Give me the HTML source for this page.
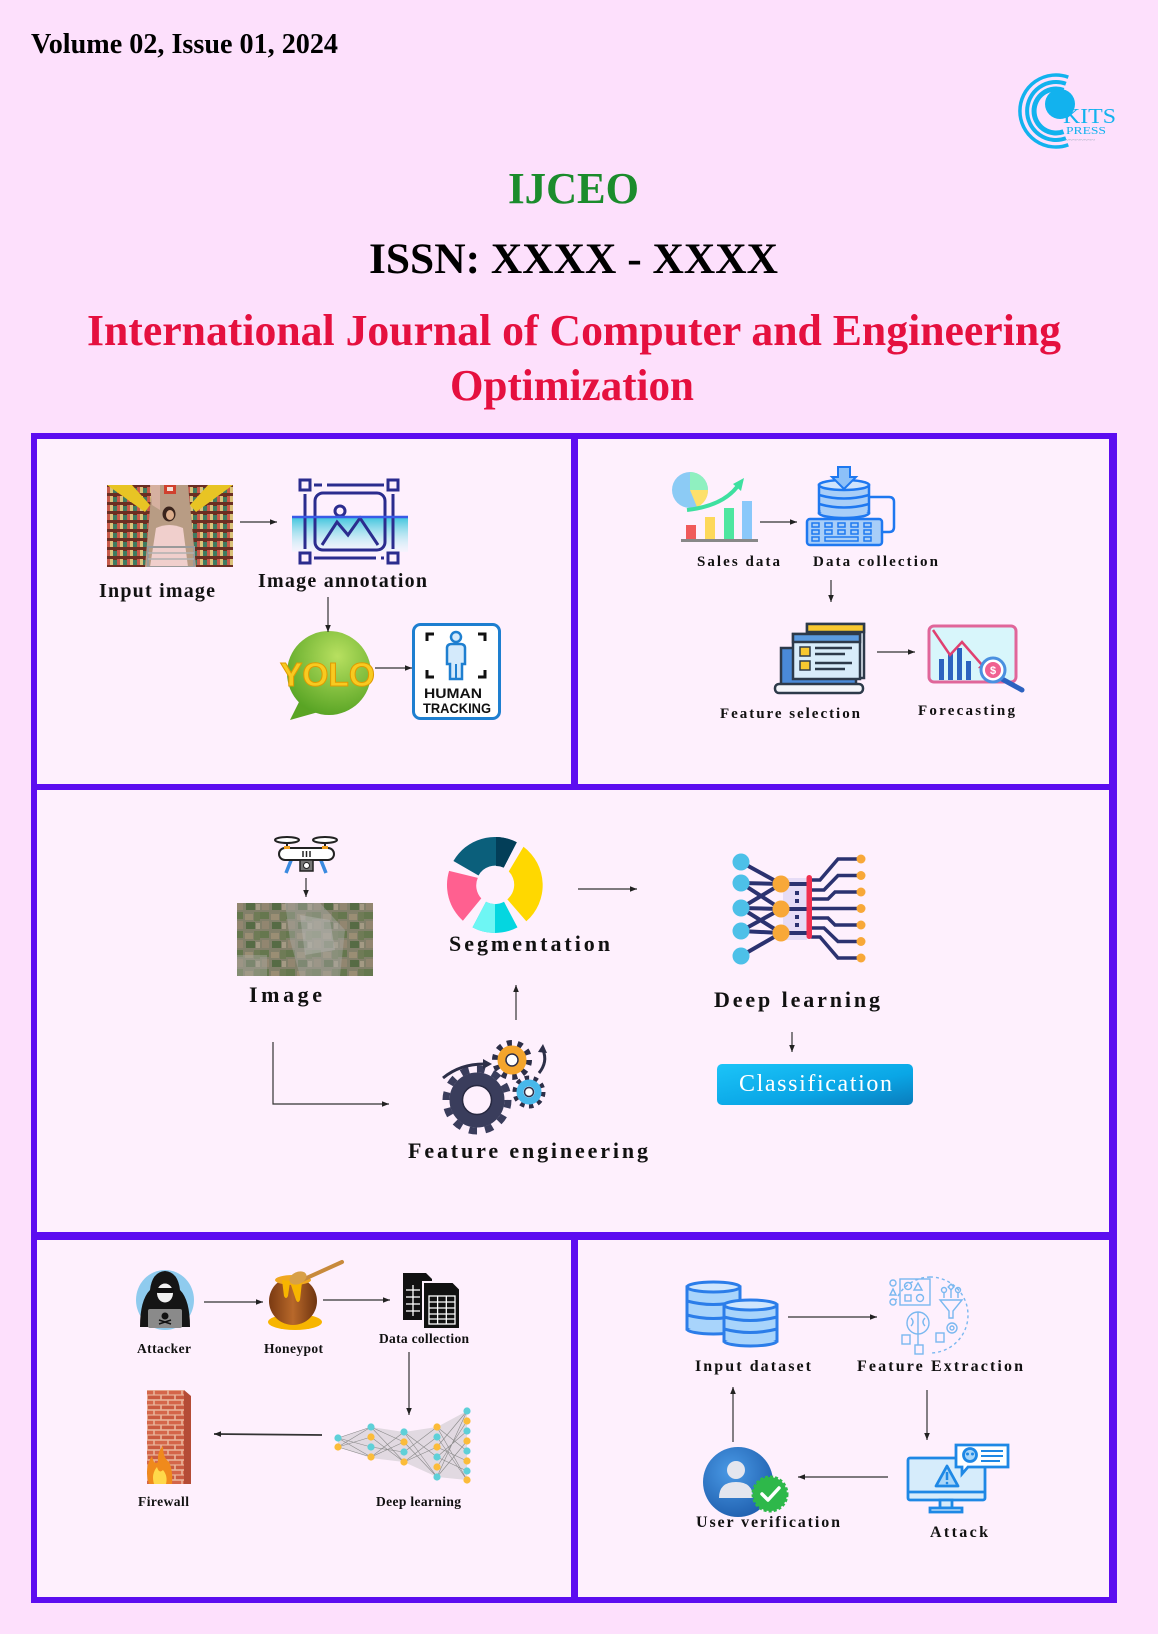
<!DOCTYPE html>
<html><head><meta charset="utf-8"><title>IJCEO</title>
<style>
html,body{margin:0;padding:0;background:#fde0fc;}
svg{display:block}
</style></head><body>
<svg width="1158" height="1634" viewBox="0 0 1158 1634" xmlns="http://www.w3.org/2000/svg" font-family="'Liberation Serif', 'DejaVu Serif', serif">
<defs>
  <marker id="ah" viewBox="0 0 10 10" refX="10" refY="5" markerWidth="7" markerHeight="7" markerUnits="userSpaceOnUse" orient="auto">
    <path d="M0,1 L10,5 L0,9 z" fill="#222"/>
  </marker>
  <linearGradient id="cyanband" x1="0" y1="0" x2="0" y2="1">
    <stop offset="0" stop-color="#3cc4dc"/><stop offset="1" stop-color="#e6fafd" stop-opacity="0.3"/>
  </linearGradient>
  <radialGradient id="yolog" cx="0.6" cy="0.3" r="0.8">
    <stop offset="0" stop-color="#b8e060"/><stop offset="1" stop-color="#4e9e1e"/>
  </radialGradient>
  <linearGradient id="btng" x1="0" y1="0" x2="1" y2="1">
    <stop offset="0" stop-color="#1cc4f8"/><stop offset="0.6" stop-color="#0aa6e6"/><stop offset="1" stop-color="#0a7cbc"/>
  </linearGradient>
  <radialGradient id="userg" cx="0.4" cy="0.35" r="0.7">
    <stop offset="0" stop-color="#4a9ae6"/><stop offset="1" stop-color="#1f5fae"/>
  </radialGradient>
  <linearGradient id="potg" x1="0" y1="0" x2="1" y2="0">
    <stop offset="0" stop-color="#7a3a12"/><stop offset="0.5" stop-color="#b8682a"/><stop offset="1" stop-color="#6e3410"/>
  </linearGradient>
  <pattern id="shelf" width="10" height="9" patternUnits="userSpaceOnUse">
    <rect width="10" height="9" fill="#6b2e22"/>
    <rect x="0" y="1" width="3" height="6" fill="#d9c27a"/>
    <rect x="3" y="2" width="4" height="5" fill="#3f7a5f"/>
    <rect x="7" y="1" width="3" height="6" fill="#c65a4a"/>
  </pattern>
  <pattern id="sat" width="26" height="19" patternUnits="userSpaceOnUse">
    <rect width="26" height="19" fill="#82806a"/>
    <rect x="0" y="0" width="9" height="7" fill="#65774e"/>
    <rect x="11" y="2" width="8" height="6" fill="#9a8e74"/>
    <rect x="20" y="0" width="6" height="9" fill="#6f7b56"/>
    <rect x="2" y="9" width="7" height="8" fill="#928670"/>
    <rect x="12" y="10" width="9" height="7" fill="#566b45"/>
    <rect x="22" y="11" width="4" height="6" fill="#a49a84"/>
  </pattern>
  <pattern id="brick" width="14" height="10" patternUnits="userSpaceOnUse">
    <rect width="14" height="10" fill="#e9b49a"/>
    <rect x="0.8" y="0.8" width="12.4" height="3.6" fill="#d4664a"/>
    <rect x="-6.2" y="5.6" width="12.4" height="3.6" fill="#c95a40"/>
    <rect x="7.8" y="5.6" width="12.4" height="3.6" fill="#c95a40"/>
  </pattern>
  <clipPath id="cpPhoto"><rect x="107" y="485" width="126" height="82"/></clipPath>
  <clipPath id="cpSat"><rect x="237" y="903" width="136" height="73"/></clipPath>
</defs>

<!-- page background -->
<rect width="1158" height="1634" fill="#fde0fc"/>

<!-- header -->
<text x="31" y="53" font-size="28" font-weight="bold" fill="#000" textLength="307" lengthAdjust="spacingAndGlyphs">Volume 02, Issue 01, 2024</text>
<text x="508" y="203" font-size="44" font-weight="bold" fill="#1b8c2c" textLength="131" lengthAdjust="spacingAndGlyphs">IJCEO</text>
<text x="369" y="273" font-size="43" font-weight="bold" fill="#000" textLength="409" lengthAdjust="spacingAndGlyphs">ISSN: XXXX - XXXX</text>
<text x="87" y="345" font-size="44" font-weight="bold" fill="#e5103f" textLength="974" lengthAdjust="spacingAndGlyphs">International Journal of Computer and Engineering</text>
<text x="450" y="400" font-size="44" font-weight="bold" fill="#e5103f" textLength="244" lengthAdjust="spacingAndGlyphs">Optimization</text>

<!-- logo -->
<g fill="none" stroke="#12b2ee">
  <path d="M1063.5,90.3 A22,22 0 1 0 1063.5,131.7" stroke-width="5"/>
  <path d="M1065.9,83.7 A29,29 0 1 0 1065.9,138.3" stroke-width="4"/>
  <path d="M1068.3,77.2 A36,36 0 1 0 1068.3,144.8" stroke-width="3.5"/>
</g>
<circle cx="1060" cy="104" r="15" fill="#12b2ee"/>
<text x="1063" y="123" font-size="21" fill="#12b2ee" textLength="53" lengthAdjust="spacingAndGlyphs">KITS</text>
<text x="1066" y="134" font-size="11" fill="#12b2ee" textLength="40" lengthAdjust="spacingAndGlyphs">PRESS</text>
<text x="1065" y="142" font-size="6" fill="#8aa0b0" textLength="30" lengthAdjust="spacingAndGlyphs">~~~~~~~~</text>

<!-- frame -->
<rect x="31" y="433" width="1086" height="1170" fill="#5c0df0"/>
<rect x="37" y="439" width="534" height="345" fill="#fef0fd"/>
<rect x="578" y="439" width="531" height="345" fill="#fef0fd"/>
<rect x="37" y="790" width="1072" height="442" fill="#fef0fd"/>
<rect x="37" y="1240" width="534" height="357" fill="#fef0fd"/>
<rect x="578" y="1240" width="531" height="357" fill="#fef0fd"/>

<!-- ============ TOP LEFT ============ -->
<g clip-path="url(#cpPhoto)">
  <rect x="107" y="485" width="126" height="82" fill="#7a3a28"/>
  <polygon points="107,485 152,485 145,567 107,567" fill="url(#shelf)"/>
  <polygon points="188,485 233,485 233,567 196,567" fill="url(#shelf)"/>
  <polygon points="152,485 188,485 196,567 145,567" fill="#b89c84"/>
  <polygon points="150,485 160,485 160,510 152,505" fill="#d6b0a0"/>
  <polygon points="107,485 132,485 150,505 145,512" fill="#e8c424"/>
  <polygon points="233,485 208,485 190,505 196,512" fill="#e8c424"/>
  <rect x="164" y="485" width="12" height="9" fill="#d0402e"/>
  <rect x="167" y="487" width="6" height="4" fill="#f4e0d8"/>
  <ellipse cx="169" cy="514" rx="6.5" ry="7.5" fill="#3a241c"/>
  <ellipse cx="170" cy="515" rx="4" ry="5" fill="#dcae8c"/>
  <path d="M156,528 Q169,522 183,528 L188,567 L150,567 Z" fill="#f0cfcc"/>
  <rect x="148" y="547" width="46" height="20" fill="none" stroke="#9a9a9a" stroke-width="2"/>
  <line x1="148" y1="553" x2="194" y2="553" stroke="#b0b0b0" stroke-width="1.5"/>
  <line x1="148" y1="559" x2="194" y2="559" stroke="#b0b0b0" stroke-width="1.5"/>
</g>

<rect x="292" y="517" width="116" height="35" fill="url(#cyanband)"/>
<g fill="none" stroke="#2b2c8e" stroke-width="3">
  <rect x="300" y="480" width="10" height="10"/>
  <rect x="388" y="480" width="10" height="10"/>
  <rect x="300" y="553" width="10" height="10"/>
  <rect x="388" y="553" width="10" height="10"/>
  <line x1="314" y1="485" x2="322" y2="485"/>
  <line x1="327" y1="485" x2="384" y2="485"/>
  <line x1="305" y1="494" x2="305" y2="549"/>
  <line x1="393" y1="494" x2="393" y2="549"/>
  <line x1="314" y1="558" x2="376" y2="558"/>
  <line x1="381" y1="558" x2="384" y2="558"/>
  <rect x="315" y="493" width="70" height="57" rx="8"/>
  <circle cx="340" cy="511" r="5"/>
  <polyline points="322,545 337,522 348,535 360,518 378,545"/>
</g>
<line x1="292" y1="517" x2="408" y2="517" stroke="#3a5ae6" stroke-width="2.5"/>

<path d="M300,700 L290,720 L322,711 Z" fill="#5aa424"/>
<circle cx="329" cy="673" r="42" fill="url(#yolog)"/>
<text x="280" y="686" font-family="'Liberation Sans', 'DejaVu Sans', sans-serif" font-size="33" font-weight="bold" fill="#f8ca20" stroke="#e09a00" stroke-width="1" textLength="95" lengthAdjust="spacingAndGlyphs">YOLO</text>

<rect x="413.5" y="624.5" width="86" height="94" rx="7" fill="#ffffff" stroke="#1e7fd0" stroke-width="3"/>
<g fill="none" stroke="#111" stroke-width="3">
  <polyline points="427,641 427,634 434,634"/>
  <polyline points="478,634 485,634 485,641"/>
  <polyline points="427,670 427,677 434,677"/>
  <polyline points="485,670 485,677 478,677"/>
</g>
<g fill="#d4eafb" stroke="#1e7fd0" stroke-width="2.5">
  <circle cx="456" cy="637" r="5"/>
  <path d="M447,648 Q447,644 452,644 L460,644 Q465,644 465,648 L465,664 L462,664 L462,679 L450,679 L450,664 L447,664 Z"/>
</g>
<line x1="456" y1="664" x2="456" y2="679" stroke="#1e7fd0" stroke-width="2"/>
<g font-family="'Liberation Sans', 'DejaVu Sans', sans-serif" font-weight="bold" fill="#111" font-size="14">
  <text x="424" y="698" textLength="58" lengthAdjust="spacingAndGlyphs">HUMAN</text>
  <text x="423" y="713" textLength="68" lengthAdjust="spacingAndGlyphs">TRACKING</text>
</g>

<g font-weight="bold" fill="#111" font-size="20">
  <text x="99" y="597" textLength="116" lengthAdjust="spacing">Input image</text>
  <text x="258" y="587" textLength="169" lengthAdjust="spacing">Image annotation</text>
</g>

<!-- ============ TOP RIGHT ============ -->
<circle cx="690" cy="490" r="18" fill="#8ccbf5"/>
<path d="M690,490 L708,490 A18,18 0 0 1 697,507 Z" fill="#fde06a"/>
<path d="M690,490 L690,472 A18,18 0 0 1 708,490 Z" fill="#8ff0c0"/>
<path d="M687,510 Q722,506 737,487" fill="none" stroke="#3ee0a0" stroke-width="4"/>
<polygon points="733,484 744,478 741,491" fill="#3ee0a0"/>
<rect x="686" y="525" width="10" height="15" fill="#f05a5a"/>
<rect x="705" y="517" width="10" height="23" fill="#fdd85a"/>
<rect x="724" y="508" width="10" height="32" fill="#4ee6a0"/>
<rect x="742" y="501" width="10" height="39" fill="#8ac8fa"/>
<rect x="681" y="539" width="77" height="3" fill="#888"/>

<g stroke="#1e78f0" stroke-width="2.5">
  <path d="M869,497 L889,497 Q894,497 894,502 L894,527 Q894,532 889,532 L882,532" fill="none"/>
  <rect x="819" y="485" width="50" height="28" fill="#a8cef8"/>
  <ellipse cx="844" cy="513" rx="25" ry="5" fill="#a8cef8"/>
  <rect x="820.5" y="486" width="47" height="26" fill="#a8cef8" stroke="none"/>
  <ellipse cx="844" cy="485" rx="25" ry="5" fill="#cfe4fc"/>
  <path d="M819,495 Q844,502 869,495 M819,504 Q844,511 869,504" fill="none"/>
  <polygon points="838,467 850,467 850,477 856,477 844,489 832,477 838,477" fill="#8cc0f8" stroke-width="2"/>
  <rect x="807" y="519" width="75" height="26" rx="3" fill="#a8cef8"/>
</g>
<g fill="none" stroke="#1e78f0" stroke-width="1.5">
  <rect x="812" y="523" width="7" height="4"/><rect x="825" y="523" width="7" height="4"/><rect x="838" y="523" width="7" height="4"/><rect x="851" y="523" width="7" height="4"/><rect x="864" y="523" width="7" height="4"/>
  <rect x="812" y="530" width="7" height="4"/><rect x="825" y="530" width="7" height="4"/><rect x="838" y="530" width="7" height="4"/><rect x="851" y="530" width="7" height="4"/><rect x="864" y="530" width="7" height="4"/>
  <rect x="812" y="537" width="7" height="4"/><rect x="825" y="537" width="33" height="4"/><rect x="864" y="537" width="7" height="4"/>
</g>

<g stroke="#2d3a4a" stroke-width="2.5">
  <rect x="781" y="648" width="75" height="38" fill="#4a8ad8"/>
  <rect x="775" y="684" width="88" height="9" rx="4" fill="#f4f6fa"/>
  <rect x="807" y="624" width="57" height="54" fill="#eaf2fb"/>
  <rect x="807" y="624" width="57" height="8" fill="#f8c830"/>
  <rect x="793" y="634" width="67" height="45" fill="#d8ecfa"/>
  <rect x="793" y="634" width="67" height="8" fill="#5a9ae0"/>
  <rect x="800" y="647" width="10" height="9" fill="#f8c830" stroke-width="1.5"/>
  <rect x="800" y="661" width="10" height="9" fill="#f8c830" stroke-width="1.5"/>
  <line x1="815" y1="648" x2="852" y2="648"/>
  <line x1="815" y1="654" x2="845" y2="654"/>
  <line x1="815" y1="663" x2="852" y2="663"/>
  <line x1="815" y1="669" x2="845" y2="669"/>
</g>

<rect x="929" y="626" width="87" height="56" rx="5" fill="#d8f6fb" stroke="#e0669a" stroke-width="3"/>
<g fill="#2c62c0">
  <rect x="939" y="659" width="5" height="21"/>
  <rect x="948" y="653" width="5" height="27"/>
  <rect x="957" y="648" width="5" height="32"/>
  <rect x="966" y="661" width="5" height="19"/>
</g>
<polyline points="933,630 950,655 962,642 982,665" fill="none" stroke="#e04070" stroke-width="2.5"/>
<polygon points="978,668 987,670 984,661" fill="#e04070"/>
<line x1="1002" y1="679" x2="1022" y2="690" stroke="#2c62c0" stroke-width="5" stroke-linecap="round"/>
<circle cx="993" cy="670" r="12" fill="#fff" stroke="#4a90e0" stroke-width="3"/>
<circle cx="993" cy="670" r="8" fill="#f06090"/>
<text x="993" y="674" font-family="'Liberation Sans', sans-serif" font-size="11" font-weight="bold" fill="#fff" text-anchor="middle">$</text>

<g font-weight="bold" fill="#111" font-size="15">
  <text x="697" y="566" textLength="83" lengthAdjust="spacing">Sales data</text>
  <text x="813" y="566" textLength="125" lengthAdjust="spacing">Data collection</text>
  <text x="720" y="718" textLength="140" lengthAdjust="spacing">Feature selection</text>
  <text x="918" y="715" textLength="97" lengthAdjust="spacing">Forecasting</text>
</g>

<!-- ============ MIDDLE ============ -->
<g stroke="#222" stroke-width="2">
  <line x1="287" y1="841" x2="287" y2="850"/>
  <line x1="325" y1="841" x2="325" y2="850"/>
  <ellipse cx="287" cy="840" rx="12" ry="3" fill="#fff"/>
  <ellipse cx="325" cy="840" rx="12" ry="3" fill="#fff"/>
  <line x1="292" y1="858" x2="286" y2="873" stroke="#3a8ae0" stroke-width="3.5"/>
  <line x1="320" y1="858" x2="326" y2="873" stroke="#3a8ae0" stroke-width="3.5"/>
  <rect x="279" y="848" width="55" height="12" rx="6" fill="#fff"/>
  <rect x="300" y="860" width="13" height="11" fill="#777" stroke-width="1.5"/>
</g>
<rect x="284" y="846" width="6" height="3" fill="#f0a020"/>
<rect x="322" y="846" width="6" height="3" fill="#f0a020"/>
<circle cx="306.5" cy="865.5" r="3" fill="#fff" stroke="#222" stroke-width="1"/>
<line x1="303" y1="851" x2="303" y2="857" stroke="#222" stroke-width="1.5"/>
<line x1="306.5" y1="851" x2="306.5" y2="857" stroke="#222" stroke-width="1.5"/>
<line x1="310" y1="851" x2="310" y2="857" stroke="#222" stroke-width="1.5"/>

<g clip-path="url(#cpSat)">
  <rect x="237" y="903" width="136" height="73" fill="url(#sat)"/>
  <polygon points="285,903 320,903 345,930 340,976 300,976 290,940" fill="#a6a6a0" opacity="0.5"/>
  <polygon points="300,915 330,920 335,950 305,955" fill="#b8b8b4" opacity="0.45"/>
  <rect x="237" y="955" width="30" height="21" fill="#a8a8a0" opacity="0.45"/>
</g>

<path d="M453.4,861 A48,48 0 0 1 516.8,842.2 L503.7,867.6 A19,19 0 0 0 478.5,875.5 Z" fill="#0b5f7b"/>
<path d="M496,837 A48,48 0 0 1 516.8,842.2 L503.7,867.6 A19,19 0 0 0 496,866 Z" fill="#033e58"/>
<path d="M523.5,846.8 A48,48 0 0 1 526.3,921.3 L507.3,899.3 A19,19 0 0 0 508.8,871.4 Z" fill="#ffd800"/>
<path d="M517.5,927.4 A48,48 0 0 1 472.5,927.4 L486,901.8 A19,19 0 0 0 504,901.8 Z" fill="#04d6e0"/>
<path d="M495,933 A48,48 0 0 1 472.5,927.4 L486,901.8 A19,19 0 0 0 495,904 Z" fill="#6ef6f4"/>
<path d="M462.9,920.7 A48,48 0 0 1 449.1,870.9 L477.8,877.9 A19,19 0 0 0 481.3,898.4 Z" fill="#ff6090"/>

<rect x="783" y="878" width="24" height="62" fill="#e6dcf6"/>
<g stroke="#2b3270" stroke-width="4" fill="none" stroke-linecap="round">
  <line x1="741" y1="862" x2="781" y2="884"/>
  <line x1="741" y1="883" x2="781" y2="884"/>
  <line x1="741" y1="883" x2="781" y2="909"/>
  <line x1="741" y1="908" x2="781" y2="884"/>
  <line x1="741" y1="908" x2="781" y2="909"/>
  <line x1="741" y1="908" x2="781" y2="933"/>
  <line x1="741" y1="931" x2="781" y2="909"/>
  <line x1="741" y1="931" x2="781" y2="933"/>
  <line x1="741" y1="956" x2="781" y2="933"/>
  <line x1="781" y1="884" x2="808" y2="884"/>
  <line x1="781" y1="909" x2="808" y2="909"/>
  <line x1="781" y1="933" x2="808" y2="933"/>
  <polyline points="812,880 820,880 838,859 861,859" stroke-width="3.5"/>
  <polyline points="812,890 824,890 838,875.5 861,875.5" stroke-width="3.5"/>
  <polyline points="812,899 828,899 835,892 861,892" stroke-width="3.5"/>
  <polyline points="812,908.5 861,908.5" stroke-width="3.5"/>
  <polyline points="812,918 828,918 835,925 861,925" stroke-width="3.5"/>
  <polyline points="812,928 824,928 838,941.5 861,941.5" stroke-width="3.5"/>
  <polyline points="812,937 820,937 838,958 861,958" stroke-width="3.5"/>
</g>
<g fill="#2b3270">
  <rect x="795" y="891" width="4" height="4"/><rect x="795" y="899" width="4" height="4"/>
  <rect x="795" y="915" width="4" height="4"/><rect x="795" y="923" width="4" height="4"/>
</g>
<rect x="806.5" y="875" width="5.5" height="64" rx="2.7" fill="#f03050"/>
<g fill="#4dc0e8">
  <circle cx="741" cy="862" r="8.5"/><circle cx="741" cy="883" r="8.5"/><circle cx="741" cy="908" r="8.5"/><circle cx="741" cy="931" r="8.5"/><circle cx="741" cy="956" r="8.5"/>
</g>
<g fill="#f8a838">
  <circle cx="781" cy="884" r="8.5"/><circle cx="781" cy="909" r="8.5"/><circle cx="781" cy="933" r="8.5"/>
  <circle cx="861" cy="859" r="4.5"/><circle cx="861" cy="875.5" r="4.5"/><circle cx="861" cy="892" r="4.5"/><circle cx="861" cy="908.5" r="4.5"/><circle cx="861" cy="925" r="4.5"/><circle cx="861" cy="941.5" r="4.5"/><circle cx="861" cy="958" r="4.5"/>
</g>

<circle cx="477" cy="1100" r="31" fill="none" stroke="#3a3d5c" stroke-width="7" stroke-dasharray="8 8.2"/>
<circle cx="477" cy="1100" r="21" fill="none" stroke="#3a3d5c" stroke-width="13"/>
<circle cx="477" cy="1100" r="14.5" fill="#fef0fd" stroke="#262840" stroke-width="1.5"/>
<circle cx="512" cy="1060" r="17" fill="none" stroke="#2d2f48" stroke-width="6" stroke-dasharray="5 5.7"/>
<circle cx="512" cy="1060" r="10.5" fill="none" stroke="#f4a52c" stroke-width="8"/>
<circle cx="512" cy="1060" r="6" fill="#fff" stroke="#2d2f48" stroke-width="1.5"/>
<circle cx="529" cy="1092" r="14" fill="none" stroke="#2d2f48" stroke-width="5" stroke-dasharray="4.4 4.4"/>
<circle cx="529" cy="1092" r="9" fill="none" stroke="#48b8ea" stroke-width="7"/>
<circle cx="529" cy="1092" r="4.5" fill="#fff" stroke="#2d2f48" stroke-width="1.5"/>
<path d="M443,1078 Q460,1064 484,1064" fill="none" stroke="#2d2f48" stroke-width="3"/>
<polygon points="483,1059 492,1064 483,1069" fill="#2d2f48"/>
<path d="M539,1073 Q548,1062 543,1050" fill="none" stroke="#2d2f48" stroke-width="3"/>
<polygon points="538,1052 543,1044 547,1053" fill="#2d2f48"/>

<rect x="717" y="1064" width="196" height="41" rx="5" fill="url(#btng)"/>
<text x="739" y="1091" font-size="24" fill="#ffffff" textLength="153" lengthAdjust="spacing">Classification</text>

<g font-weight="bold" fill="#111" font-size="22">
  <text x="249" y="1002" textLength="73" lengthAdjust="spacing">Image</text>
  <text x="449" y="951" textLength="161" lengthAdjust="spacing">Segmentation</text>
  <text x="714" y="1007" textLength="166" lengthAdjust="spacing">Deep learning</text>
  <text x="408" y="1158" textLength="240" lengthAdjust="spacing">Feature engineering</text>
</g>

<!-- ============ BOTTOM LEFT ============ -->
<ellipse cx="165" cy="1300" rx="29" ry="30" fill="#8fcbee"/>
<path d="M140,1327 Q140,1300 150,1290 Q152,1272 165,1271 Q178,1272 180,1290 Q190,1300 190,1327 Z" fill="#151515"/>
<ellipse cx="165" cy="1293" rx="8" ry="9.5" fill="#f2f2f2"/>
<rect x="156" y="1288" width="18" height="5" rx="2" fill="#111"/>
<rect x="148" y="1309" width="34" height="19" rx="2" fill="#8a8a8a"/>
<circle cx="165" cy="1316" r="3.5" fill="#111"/>
<path d="M159,1320 L171,1324 M171,1320 L159,1324" stroke="#111" stroke-width="1.5"/>

<ellipse cx="295" cy="1322" rx="27" ry="8" fill="#f7b500"/>
<ellipse cx="293" cy="1301" rx="24" ry="24" fill="url(#potg)"/>
<ellipse cx="293" cy="1280" rx="18" ry="5" fill="#f0a820"/>
<path d="M282,1280 L284,1296 Q286,1300 288,1296 L290,1282 L296,1300 Q298,1304 300,1300 L302,1282 Z" fill="#f7b500"/>
<line x1="300" y1="1281" x2="342" y2="1262" stroke="#c88a3c" stroke-width="4" stroke-linecap="round"/>
<ellipse cx="298" cy="1278" rx="9" ry="6" fill="#d8a048" transform="rotate(-25 298 1278)"/>

<path d="M403,1273 L426,1273 L432,1279 L432,1320 L403,1320 Z" fill="#111"/>
<path d="M423,1282 L453,1282 L460,1289 L460,1329 L423,1329 Z" fill="#111" stroke="#fef0fd" stroke-width="2"/>
<g stroke="#fff" stroke-width="1.3">
  <line x1="406" y1="1290" x2="420" y2="1290"/><line x1="406" y1="1297" x2="420" y2="1297"/><line x1="406" y1="1304" x2="420" y2="1304"/><line x1="406" y1="1311" x2="420" y2="1311"/>
  <line x1="413" y1="1285" x2="413" y2="1316"/>
  <rect x="429" y="1296" width="26" height="28" fill="none"/>
  <line x1="429" y1="1302" x2="455" y2="1302"/><line x1="429" y1="1308" x2="455" y2="1308"/><line x1="429" y1="1314" x2="455" y2="1314"/><line x1="429" y1="1319" x2="455" y2="1319"/>
  <line x1="437.6" y1="1296" x2="437.6" y2="1324"/><line x1="446.3" y1="1296" x2="446.3" y2="1324"/>
</g>

<rect x="147" y="1390" width="37" height="94" fill="url(#brick)"/>
<polygon points="184,1390 191,1396 191,1484 184,1484" fill="#b44c36"/>
<path d="M149,1484 Q144,1468 152,1456 Q154,1466 158,1462 Q157,1452 163,1446 Q163,1458 169,1462 Q173,1470 172,1484 Z" fill="#f08a1c"/>
<path d="M154,1484 Q151,1474 157,1467 Q159,1474 163,1470 Q168,1476 166,1484 Z" fill="#ffd84a"/>

<g fill="#b8b8b8" opacity="0.4">
  <polygon points="338,1438 371,1427 371,1458 338,1447"/>
  <polygon points="371,1427 404,1432 404,1462 371,1458"/>
  <polygon points="404,1432 437,1427 437,1477 404,1462"/>
  <polygon points="437,1427 467,1411 467,1480 437,1477"/>
</g>
<g stroke="#8a8a8a" stroke-width="0.6" fill="none">
  <path d="M338,1438 L371,1427 M338,1438 L371,1447 M338,1447 L371,1437 M338,1447 L371,1457 M338,1438 L371,1457 M338,1447 L371,1427 M371,1427 L404,1442 M371,1437 L404,1462 M371,1457 L404,1432 M371,1447 L404,1452 M371,1427 L404,1462 M371,1457 L404,1442 M404,1432 L437,1457 M404,1442 L437,1477 M404,1452 L437,1427 M404,1462 L437,1447 M404,1432 L437,1477 M404,1462 L437,1437 M437,1427 L467,1451 M437,1437 L467,1480 M437,1447 L467,1411 M437,1457 L467,1471 M437,1467 L467,1421 M437,1477 L467,1441 M437,1427 L467,1480 M437,1477 L467,1411 M437,1447 L467,1461 M437,1457 L467,1431"/>
</g>
<g fill="#5fd0d8">
  <circle cx="338" cy="1438" r="3.6"/>
  <circle cx="371" cy="1427" r="3.6"/><circle cx="371" cy="1447" r="3.6"/>
  <circle cx="404" cy="1432" r="3.6"/><circle cx="404" cy="1452" r="3.6"/>
  <circle cx="437" cy="1437" r="3.6"/><circle cx="437" cy="1457" r="3.6"/><circle cx="437" cy="1477" r="3.6"/>
  <circle cx="467" cy="1411" r="3.6"/><circle cx="467" cy="1431" r="3.6"/><circle cx="467" cy="1451" r="3.6"/><circle cx="467" cy="1471" r="3.6"/>
</g>
<g fill="#fbbc3a">
  <circle cx="338" cy="1447" r="3.6"/>
  <circle cx="371" cy="1437" r="3.6"/><circle cx="371" cy="1457" r="3.6"/>
  <circle cx="404" cy="1442" r="3.6"/><circle cx="404" cy="1462" r="3.6"/>
  <circle cx="437" cy="1427" r="3.6"/><circle cx="437" cy="1447" r="3.6"/><circle cx="437" cy="1467" r="3.6"/>
  <circle cx="467" cy="1421" r="3.6"/><circle cx="467" cy="1441" r="3.6"/><circle cx="467" cy="1461" r="3.6"/><circle cx="467" cy="1480" r="3.6"/>
</g>

<g font-weight="bold" fill="#111" font-size="13.5">
  <text x="137" y="1353" textLength="54" lengthAdjust="spacing">Attacker</text>
  <text x="264" y="1353" textLength="59" lengthAdjust="spacing">Honeypot</text>
  <text x="379" y="1343" textLength="90" lengthAdjust="spacing">Data collection</text>
  <text x="138" y="1506" textLength="51" lengthAdjust="spacing">Firewall</text>
  <text x="376" y="1506" textLength="85" lengthAdjust="spacing">Deep learning</text>
</g>

<!-- ============ BOTTOM RIGHT ============ -->
<g stroke="#2b7de9" stroke-width="3" fill="#a8d4fb">
  <rect x="687" y="1287" width="53" height="42"/>
  <ellipse cx="713.5" cy="1329" rx="26.5" ry="5"/>
  <rect x="688.5" y="1288" width="50" height="40" stroke="none"/>
  <ellipse cx="713.5" cy="1287" rx="26.5" ry="5" fill="#cfe6fd"/>
  <path d="M687,1301 Q713,1308 740,1301 M687,1315 Q713,1322 740,1315" fill="none"/>
  <rect x="724" y="1305" width="53" height="36"/>
  <ellipse cx="750.5" cy="1341" rx="26.5" ry="5"/>
  <rect x="725.5" y="1306" width="50" height="34" stroke="none"/>
  <ellipse cx="750.5" cy="1305" rx="26.5" ry="5" fill="#cfe6fd"/>
  <path d="M724,1317 Q750,1324 777,1317 M724,1329 Q750,1336 777,1329" fill="none"/>
</g>

<g fill="none" stroke="#7ab8f0" stroke-width="1.4">
  <path d="M930,1277 A38,38 0 1 1 930,1353" stroke-dasharray="3 3"/>
  <path d="M930,1277 A38,38 0 0 0 896,1300" stroke-dasharray="3 3"/>
  <rect x="900" y="1279" width="30" height="26"/>
  <circle cx="908" cy="1286" r="3.5"/>
  <polygon points="918,1283 922,1290 914,1290"/>
  <rect x="905" y="1295" width="6" height="6"/>
  <circle cx="920" cy="1298" r="3.5"/>
  <circle cx="893" cy="1283" r="3"/>
  <polygon points="893,1289 896,1295 890,1295"/>
  <circle cx="893" cy="1302" r="3"/>
  <polygon points="940,1300 962,1300 953,1311 953,1318 949,1318 949,1311"/>
  <path d="M944,1298 L944,1292 M951,1298 L951,1289 M958,1298 L958,1292"/>
  <circle cx="944" cy="1290" r="2.5"/><rect x="949" y="1285" width="4" height="4" transform="rotate(45 951 1287)"/><circle cx="958" cy="1290" r="2.5"/>
  <circle cx="952" cy="1328" r="5"/><circle cx="952" cy="1328" r="2"/>
  <circle cx="918" cy="1323" r="11"/>
  <path d="M918,1312 L918,1334 M911,1318 Q915,1322 911,1326 M925,1318 Q921,1322 925,1326"/>
  <rect x="902" y="1335" width="8" height="9"/>
  <rect x="936" y="1333" width="8" height="9"/>
  <rect x="915" y="1345" width="8" height="9"/>
  <path d="M918,1334 L918,1345"/>
</g>

<g stroke="#1e88e5" stroke-width="2.8">
  <rect x="908" y="1458" width="77" height="42" rx="2" fill="#d6ecfb"/>
  <line x1="908" y1="1492" x2="985" y2="1492"/>
  <rect x="940" y="1500" width="12" height="8" fill="#d6ecfb"/>
  <rect x="930" y="1508" width="32" height="4" fill="#d6ecfb"/>
  <path d="M947,1466 L958,1486 L936,1486 Z" fill="#a8d6f8" stroke-linejoin="round"/>
  <path d="M956,1445 L1008,1445 L1008,1467 L968,1467 L962,1474 L962,1467 L956,1467 Z" fill="#ffffff"/>
  <circle cx="970" cy="1455" r="6.5" fill="#a8d6f8"/>
</g>
<line x1="947" y1="1472" x2="947" y2="1480" stroke="#1e88e5" stroke-width="2.5"/>
<circle cx="947" cy="1483" r="1.3" fill="#1e88e5"/>
<circle cx="967.5" cy="1454" r="1.5" fill="#1e88e5"/><circle cx="972.5" cy="1454" r="1.5" fill="#1e88e5"/>
<g stroke="#1e88e5" stroke-width="2">
  <line x1="981" y1="1451" x2="1003" y2="1451"/>
  <line x1="981" y1="1456" x2="1003" y2="1456"/>
  <line x1="981" y1="1461" x2="1000" y2="1461"/>
</g>

<circle cx="738" cy="1482" r="35" fill="url(#userg)"/>
<circle cx="736" cy="1470" r="9" fill="#e4e6ee"/>
<path d="M719,1498 Q719,1482 736,1482 Q753,1482 753,1498 Z" fill="#e4e6ee"/>
<circle cx="770" cy="1494" r="17" fill="#2eb84a" stroke="#2eb84a" stroke-width="3" stroke-dasharray="3 2"/>
<path d="M762,1494 L768,1500 L779,1488" fill="none" stroke="#fff" stroke-width="3.5" stroke-linecap="round" stroke-linejoin="round"/>

<g font-weight="bold" fill="#111" font-size="16">
  <text x="695" y="1371" textLength="116" lengthAdjust="spacing">Input dataset</text>
  <text x="857" y="1371" textLength="166" lengthAdjust="spacing">Feature Extraction</text>
  <text x="696" y="1527" textLength="144" lengthAdjust="spacing">User verification</text>
  <text x="930" y="1537" textLength="58" lengthAdjust="spacing">Attack</text>
</g>

<!-- ============ ARROWS ============ -->
<g stroke="#333" stroke-width="1.2" fill="none" marker-end="url(#ah)">
  <line x1="240" y1="522" x2="277" y2="522"/>
  <line x1="328" y1="597" x2="328" y2="632"/>
  <line x1="375" y1="668" x2="412" y2="668"/>
  <line x1="760" y1="522" x2="797" y2="522"/>
  <line x1="831" y1="580" x2="831" y2="602"/>
  <line x1="877" y1="652" x2="915" y2="652"/>
  <line x1="306" y1="878" x2="306" y2="897"/>
  <line x1="578" y1="889" x2="637" y2="889"/>
  <line x1="792" y1="1032" x2="792" y2="1052"/>
  <line x1="516" y1="1020" x2="516" y2="985"/>
  <polyline points="273,1042 273,1104 389,1104"/>
  <line x1="204" y1="1302" x2="263" y2="1302"/>
  <line x1="323" y1="1300" x2="390" y2="1300"/>
  <line x1="409" y1="1352" x2="409" y2="1415"/>
  <line x1="322" y1="1435" x2="214" y2="1434" stroke-width="1.8"/>
  <line x1="788" y1="1317" x2="877" y2="1317"/>
  <line x1="927" y1="1390" x2="927" y2="1440"/>
  <line x1="888" y1="1477" x2="798" y2="1477"/>
  <line x1="733" y1="1442" x2="733" y2="1387"/>
</g>
</svg>
</body></html>
